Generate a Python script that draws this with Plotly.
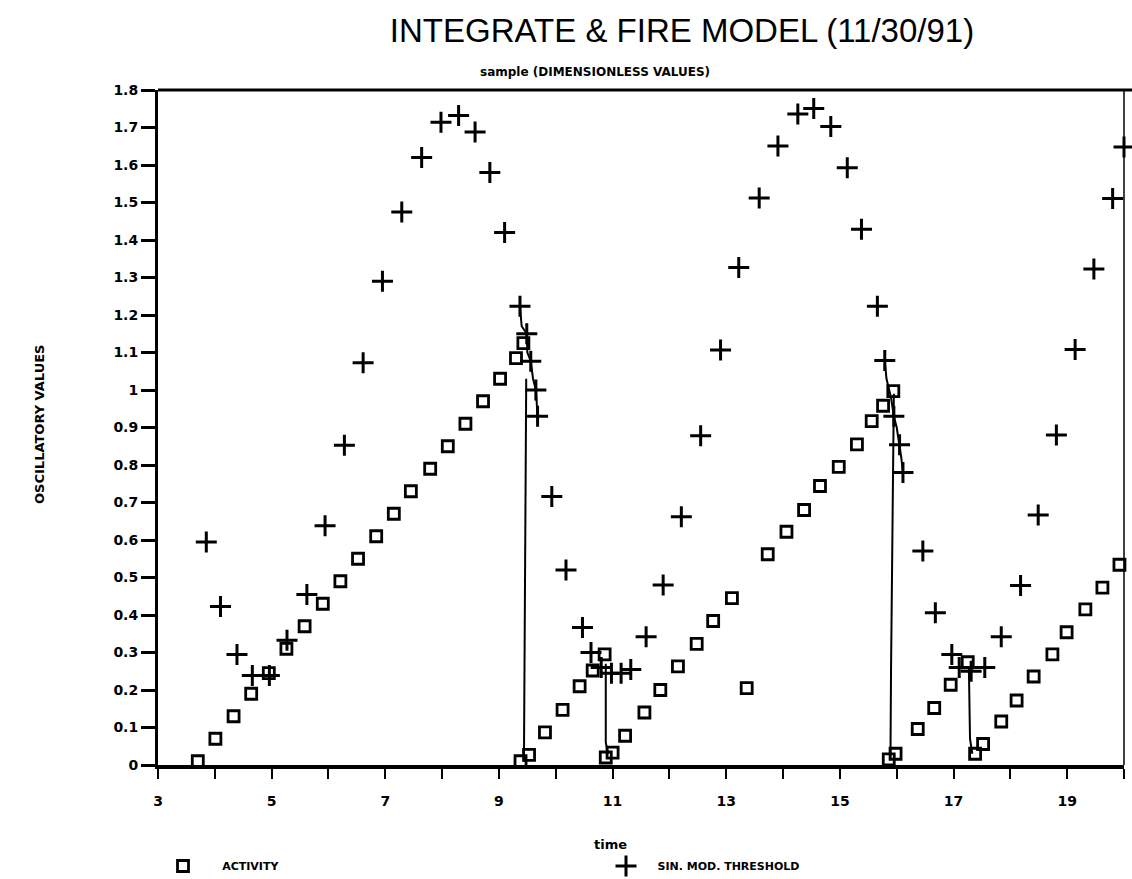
import plotly.graph_objects as go

# ---- data ----
activity_x = [3.70, 4.01, 4.33, 4.64, 4.95, 5.26, 5.58, 5.90, 6.21, 6.52, 6.84, 7.15, 7.45, 7.79,
              8.10, 8.41, 8.72, 9.02, 9.30, 9.43, 9.38, 9.53, 9.81, 10.12, 10.42, 10.65, 10.86,
              10.88, 11.00, 11.22, 11.56, 11.84, 12.15, 12.48, 12.77, 13.10, 13.36, 13.73, 14.06,
              14.37, 14.65, 14.98, 15.30, 15.56, 15.76, 15.94, 15.86, 15.98, 16.37, 16.66, 16.95,
              17.25, 17.38, 17.52, 17.84, 18.11, 18.41, 18.74, 18.99, 19.32, 19.62, 19.92]
activity_y = [0.01, 0.07, 0.13, 0.19, 0.245, 0.31, 0.37, 0.43, 0.49, 0.55, 0.61, 0.67, 0.73, 0.79,
              0.85, 0.91, 0.97, 1.03, 1.085, 1.125, 0.01, 0.027, 0.087, 0.147, 0.21, 0.252, 0.295,
              0.02, 0.033, 0.078, 0.14, 0.20, 0.263, 0.323, 0.384, 0.445, 0.205, 0.562, 0.622,
              0.68, 0.744, 0.795, 0.855, 0.917, 0.958, 0.997, 0.015, 0.03, 0.096, 0.152, 0.214,
              0.274, 0.03, 0.056, 0.116, 0.172, 0.236, 0.295, 0.354, 0.415, 0.473, 0.534]

threshold_x = [3.85, 4.10, 4.39, 4.66, 4.96, 5.27, 5.62, 5.94, 6.28, 6.61, 6.95, 7.29, 7.64, 7.98,
               8.29, 8.58, 8.84, 9.10, 9.37, 9.49, 9.56, 9.65, 9.68, 9.93, 10.18, 10.47, 10.62,
               10.80, 10.98, 11.15, 11.32, 11.59, 11.89, 12.21, 12.55, 12.90, 13.22, 13.58, 13.91,
               14.26, 14.54, 14.84, 15.13, 15.38, 15.66, 15.79, 15.95, 16.05, 16.11, 16.46, 16.68,
               16.97, 17.10, 17.31, 17.55, 17.84, 18.18, 18.49, 18.81, 19.14, 19.47, 19.80, 20.00]
threshold_y = [0.595, 0.423, 0.295, 0.239, 0.239, 0.333, 0.455, 0.638, 0.853, 1.073, 1.29, 1.475,
               1.62, 1.714, 1.732, 1.688, 1.58, 1.42, 1.223, 1.15, 1.077, 1.0, 0.93, 0.716, 0.52,
               0.367, 0.30, 0.26, 0.245, 0.245, 0.255, 0.342, 0.48, 0.662, 0.878, 1.107, 1.327,
               1.512, 1.651, 1.736, 1.751, 1.703, 1.593, 1.429, 1.223, 1.079, 0.93, 0.854, 0.78,
               0.571, 0.406, 0.295, 0.26, 0.25, 0.26, 0.342, 0.479, 0.667, 0.88, 1.108, 1.323,
               1.511, 1.648]

# traces drawn as lines near the firing events
spike1_thr_x = [9.37, 9.40, 9.49, 9.50, 9.56, 9.60, 9.65, 9.68]
spike1_thr_y = [1.223, 1.17, 1.15, 1.10, 1.077, 1.03, 1.0, 0.93]
spike1_act_x = [9.48, 9.46, 9.45, 9.44]
spike1_act_y = [1.03, 0.60, 0.30, 0.01]
sub1_act_x = [10.88, 10.88, 10.92]
sub1_act_y = [0.27, 0.06, 0.03]
spike2_thr_x = [15.79, 15.82, 15.90, 15.95, 16.00, 16.05, 16.08, 16.11]
spike2_thr_y = [1.079, 1.03, 0.98, 0.93, 0.90, 0.854, 0.82, 0.78]
spike2_act_x = [15.95, 15.92, 15.90, 15.89]
spike2_act_y = [0.99, 0.60, 0.25, 0.02]
sub2_act_x = [17.27, 17.29, 17.33]
sub2_act_y = [0.26, 0.07, 0.03]

x_tick_values = [3, 4, 5, 6, 7, 8, 9, 10, 11, 12, 13, 14, 15, 16, 17, 18, 19, 20]
x_tick_labels = ["3", "", "5", "", "7", "", "9", "", "11", "", "13", "", "15", "", "17", "", "19", ""]
y_tick_values = [0, 0.1, 0.2, 0.3, 0.4, 0.5, 0.6, 0.7, 0.8, 0.9, 1.0, 1.1, 1.2, 1.3, 1.4, 1.5, 1.6, 1.7, 1.8]
y_tick_labels = ["0", "0.1", "0.2", "0.3", "0.4", "0.5", "0.6", "0.7", "0.8", "0.9", "1",
                 "1.1", "1.2", "1.3", "1.4", "1.5", "1.6", "1.7", "1.8"]

FONT = "DejaVu Sans"
NB = "\u00a0"

fig = go.Figure()

for lx, ly in [(spike1_thr_x, spike1_thr_y), (spike1_act_x, spike1_act_y), (sub1_act_x, sub1_act_y),
               (spike2_thr_x, spike2_thr_y), (spike2_act_x, spike2_act_y), (sub2_act_x, sub2_act_y)]:
    fig.add_trace(go.Scatter(x=lx, y=ly, mode="lines", line=dict(color="black", width=2),
                             showlegend=False, hoverinfo="skip"))

fig.add_trace(go.Scatter(
    x=activity_x, y=activity_y, mode="markers", name=NB * 5 + "ACTIVITY", legend="legend",
    marker=dict(symbol="square-open", size=11, color="black", line=dict(color="black", width=2.8)),
    cliponaxis=False))
fig.add_trace(go.Scatter(
    x=threshold_x, y=threshold_y, mode="markers", name=NB * 3 + "SIN. MOD. THRESHOLD", legend="legend2",
    marker=dict(symbol="cross-thin", size=15, color="black", line=dict(color="black", width=3)),
    cliponaxis=False))

legend_font = dict(family=FONT, size=11, color="black", weight="bold")

fig.update_layout(
    width=1132, height=879,
    paper_bgcolor="white", plot_bgcolor="white",
    margin=dict(l=158, r=8, t=90, b=114, autoexpand=False),
    font=dict(family=FONT, color="black"),
    title=dict(text="INTEGRATE &amp; FIRE MODEL (11/30/91)", x=682 / 1132, xanchor="center",
               y=1 - 30 / 879, yanchor="middle",
               font=dict(family="Liberation Sans", size=33, color="black")),
    showlegend=True,
    legend=dict(x=(163 - 158) / 966, xanchor="left", yref="container", y=1 - 866 / 879,
                yanchor="middle", font=legend_font, bgcolor="rgba(0,0,0,0)"),
    legend2=dict(x=(606 - 158) / 966, xanchor="left", yref="container", y=1 - 866 / 879,
                 yanchor="middle", font=legend_font, bgcolor="rgba(0,0,0,0)"),
    xaxis=dict(range=[3, 20], tickvals=x_tick_values, ticktext=x_tick_labels,
               showline=True, linecolor="black", linewidth=3.5, mirror=False,
               ticks="outside", ticklen=10, tickwidth=2, tickcolor="black",
               ticklabelstandoff=10,
               tickfont=dict(family=FONT, size=14, color="black", weight="bold"),
               showgrid=False, zeroline=False),
    yaxis=dict(range=[0, 1.8], tickvals=y_tick_values, ticktext=y_tick_labels,
               showline=True, linecolor="black", linewidth=3, mirror=False,
               ticks="outside", ticklen=14, tickwidth=2.5, tickcolor="black",
               tickfont=dict(family=FONT, size=14, color="black", weight="bold"),
               showgrid=False, zeroline=False),
    shapes=[
        dict(type="line", xref="paper", yref="paper", x0=0, x1=1.01, y0=1, y1=1,
             line=dict(color="black", width=3)),
        dict(type="line", xref="paper", yref="paper", x0=1, x1=1, y0=0, y1=1,
             line=dict(color="black", width=1.5)),
    ],
    annotations=[
        dict(text="sample (DIMENSIONLESS VALUES)", xref="paper", yref="paper",
             x=0.452, y=1.027, xanchor="center", yanchor="middle", showarrow=False,
             font=dict(family=FONT, size=12, color="black", weight="bold")),
        dict(text="OSCILLATORY VALUES", xref="paper", yref="paper", textangle=-90,
             x=-0.122, y=0.504, xanchor="center", yanchor="middle", showarrow=False,
             font=dict(family=FONT, size=13, color="black", weight="bold")),
        dict(text="time", xref="paper", yref="paper",
             x=0.468, y=-0.1185, xanchor="center", yanchor="middle", showarrow=False,
             font=dict(family=FONT, size=13, color="black", weight="bold")),
    ],
)

fig.write_html("out.html")
